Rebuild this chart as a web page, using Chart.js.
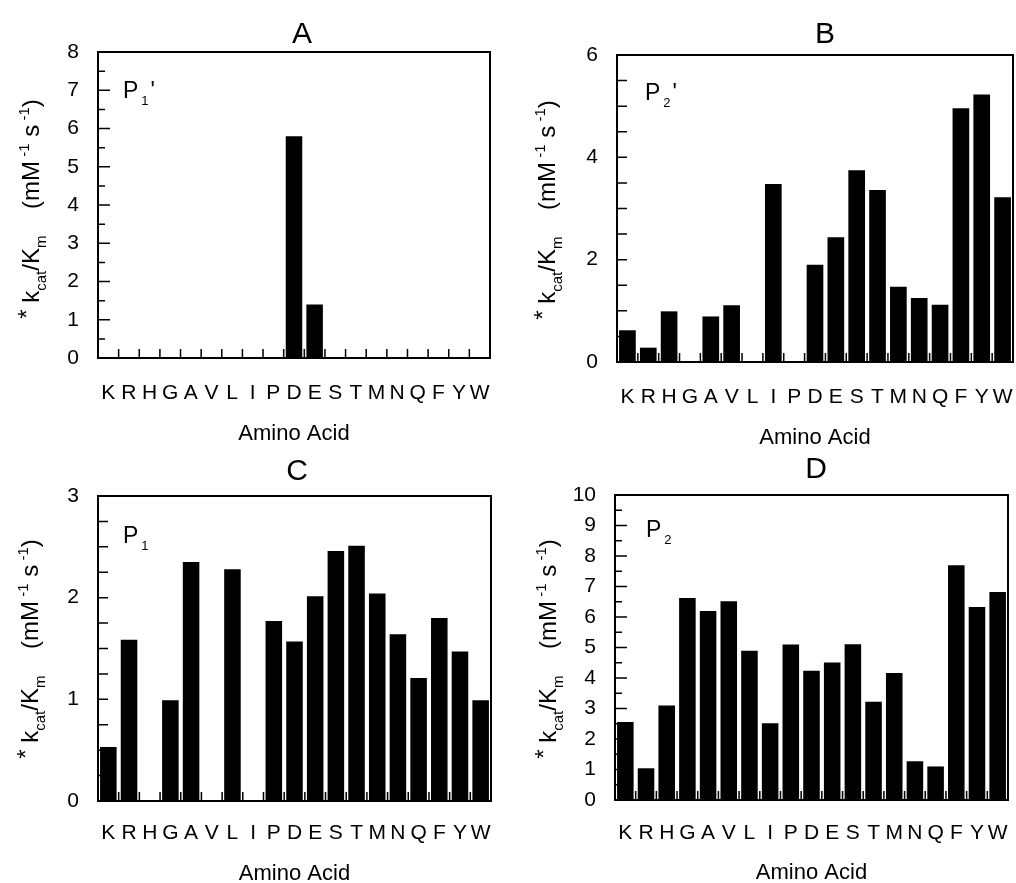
<!DOCTYPE html>
<html><head><meta charset="utf-8">
<script src="https://cdn.jsdelivr.net/npm/chart.js@4.4.1/dist/chart.umd.min.js"></script>
<style>
html,body{margin:0;padding:0;background:#fff;}
#wrap{position:relative;width:1016px;height:883px;overflow:hidden;background:#fff;}
canvas{position:absolute;left:0;top:0;}
</style></head><body>
<div id="wrap">
<canvas id="cA" width="1016" height="883"></canvas>
<canvas id="cB" width="1016" height="883"></canvas>
<canvas id="cC" width="1016" height="883"></canvas>
<canvas id="cD" width="1016" height="883"></canvas>
</div>
<script>
// ---- data ----
const aminoAcids = ['K','R','H','G','A','V','L','I','P','D','E','S','T','M','N','Q','F','Y','W'];
const p1PrimeValues = [0,0,0,0,0,0,0,0,0,5.8,1.4,0,0,0,0,0,0,0,0];
const p2PrimeValues = [0.62,0.28,0.99,0,0.89,1.11,0,3.48,0,1.90,2.44,3.75,3.36,1.47,1.25,1.12,4.96,5.23,3.22];
const p1Values = [0.53,1.585,0,0.99,2.35,0,2.28,0,1.77,1.57,2.015,2.46,2.51,2.04,1.64,1.21,1.80,1.47,0.99];
const p2Values = [2.56,1.04,3.10,6.62,6.20,6.52,4.89,2.52,5.10,4.24,4.51,5.11,3.22,4.16,1.27,1.10,7.70,6.33,6.82];
const panelTitles = ['A','B','C','D'];
const siteSubscripts = ['1','2','1','2'];
const sitePrimes = [true,true,false,false];
const yMaxes = [8,6,3,10];
const yTickSteps = [0.5,0.5,0.25,0.5];
const yLabelSteps = [1,2,1,1];
const xAxisTitle = 'Amino Acid';
const yTitleParts = [
  {t:'*', r:'ast'}, {t:' k', r:'n'}, {t:'cat', r:'sub'}, {t:'/K', r:'n'}, {t:'m', r:'sub'},
  {t:'    (mM', r:'n'}, {t:' -1', r:'sup'}, {t:' s', r:'n'}, {t:' -1', r:'sup'}, {t:')', r:'n'}
];

// ---- layout / style ----
const FONT = '"Liberation Sans", Arial, Helvetica, sans-serif';
const layouts = [
  {canvas:'cA', area:{left:98,right:490,top:52,bottom:358}, titleAt:[302,32], siteAt:[123,98], yTitleAt:[39,209], xTitleY:432, labelOff:35.6, majorLen:12, minorLen:7},
  {canvas:'cB', area:{left:617,right:1013,top:55,bottom:362}, titleAt:[825,32], siteAt:[645,100], yTitleAt:[555,210], xTitleY:436, labelOff:35.6, majorLen:10, minorLen:10},
  {canvas:'cC', area:{left:98,right:491,top:496,bottom:801}, titleAt:[297,469], siteAt:[123,543], yTitleAt:[38,649], xTitleY:872, labelOff:32.6, majorLen:10, minorLen:10},
  {canvas:'cD', area:{left:615,right:1008,top:495,bottom:800}, titleAt:[816,467], siteAt:[646,537], yTitleAt:[556,649], xTitleY:871, labelOff:33.6, majorLen:12, minorLen:7}
];
const seriesList = [p1PrimeValues, p2PrimeValues, p1Values, p2Values];

function isLabeled(v, step){ const q = v/step; return Math.abs(q - Math.round(q)) < 1e-6; }

function partSize(p, size, subSize){ return p.r==='n' || p.r==='ast' ? size : subSize; }
function drawRich(ctx, parts, size, subSize){
  const w = parts.map(p=>{ ctx.font = partSize(p,size,subSize)+'px '+FONT; return ctx.measureText(p.t).width; });
  const total = w.reduce((a,b)=>a+b,0);
  let x = -total/2;
  parts.forEach((p,i)=>{
    ctx.font = partSize(p,size,subSize)+'px '+FONT;
    const dy = p.r==='sub' ? size*0.3 : (p.r==='sup' ? -size*0.42 : (p.r==='ast' ? -size*0.15 : 0));
    ctx.fillText(p.t, x, dy);
    x += w[i];
  });
}

function decoPlugin(idx){
  const L = layouts[idx];
  return {
    id:'deco'+idx,
    afterDraw(chart){
      const {ctx, chartArea:a, scales:{x, y}} = chart;
      ctx.save();
      ctx.strokeStyle = '#000';
      ctx.fillStyle = '#000';
      ctx.lineWidth = 2;
      ctx.strokeRect(a.left, a.top, a.right - a.left, a.bottom - a.top);
      ctx.lineWidth = 1.5;
      ctx.beginPath();
      y.ticks.forEach(t=>{
        const py = y.getPixelForValue(t.value);
        const len = isLabeled(t.value, yLabelSteps[idx]) ? L.majorLen : L.minorLen;
        ctx.moveTo(a.left, py); ctx.lineTo(a.left + len, py);
      });
      for (let i = 1; i < aminoAcids.length; i++){
        const px = (x.getPixelForValue(i-1) + x.getPixelForValue(i)) / 2;
        ctx.moveTo(px, a.bottom); ctx.lineTo(px, a.bottom - 9);
      }
      ctx.stroke();
      // panel letter
      ctx.textAlign = 'center'; ctx.textBaseline = 'alphabetic';
      ctx.font = '30px ' + FONT;
      ctx.fillText(panelTitles[idx], L.titleAt[0], L.titleAt[1] + 30*0.358);
      // site label
      ctx.textAlign = 'left';
      ctx.font = '23px ' + FONT;
      const pw = ctx.measureText('P').width;
      ctx.fillText('P', L.siteAt[0], L.siteAt[1]);
      ctx.font = '13px ' + FONT;
      ctx.fillText(siteSubscripts[idx], L.siteAt[0] + pw + 3, L.siteAt[1] + 7);
      const sw = ctx.measureText(siteSubscripts[idx]).width;
      if (sitePrimes[idx]){
        ctx.font = '23px ' + FONT;
        ctx.fillText("'", L.siteAt[0] + pw + sw + 5, L.siteAt[1]);
      }
      // y title
      ctx.translate(L.yTitleAt[0], L.yTitleAt[1]);
      ctx.rotate(-Math.PI/2);
      ctx.textAlign = 'left';
      drawRich(ctx, yTitleParts, 24, 15);
      ctx.restore();
    }
  };
}

function makeChart(idx){
  const L = layouts[idx];
  const yW = 60;
  const xH = L.xTitleY - L.area.bottom + 13;
  new Chart(document.getElementById(L.canvas), {
    type:'bar',
    data:{labels:aminoAcids, datasets:[{data:seriesList[idx], backgroundColor:'#000', borderWidth:0, barPercentage:0.8, categoryPercentage:1.0}]},
    options:{
      responsive:false, animation:false, devicePixelRatio:1,
      layout:{padding:{left:L.area.left - yW, right:1016 - L.area.right, top:L.area.top, bottom:883 - L.area.bottom - xH}},
      plugins:{legend:{display:false}, tooltip:{enabled:false}, title:{display:false}},
      scales:{
        x:{offset:true, grid:{display:false, drawTicks:false}, border:{display:false},
           ticks:{autoSkip:false, maxRotation:0, minRotation:0, padding:0, color:'#000',
                  font:{family:FONT, size:21, lineHeight:(2*L.labelOff)+'px'}},
           title:{display:true, text:xAxisTitle, color:'#000', font:{family:FONT, size:22, lineHeight:1}, padding:0},
           afterFit:s=>{ s.height = xH; }},
        y:{min:0, max:yMaxes[idx], grid:{display:false, drawTicks:false}, border:{display:false},
           ticks:{stepSize:yTickSteps[idx], autoSkip:false, padding:19, color:'#000', font:{family:FONT, size:21},
                  callback:v=> isLabeled(v, yLabelSteps[idx]) ? String(Math.round(v)) : ''},
           afterFit:s=>{ s.width = yW; }}
      }
    },
    plugins:[decoPlugin(idx)]
  });
}
[0,1,2,3].forEach(makeChart);
</script>
</body></html>
